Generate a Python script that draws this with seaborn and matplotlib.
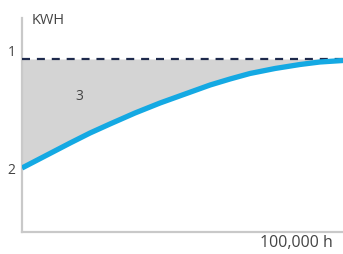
import matplotlib
matplotlib.use("Agg")
import matplotlib.pyplot as plt
import seaborn as sns
import pandas as pd

# hours of operation vs. output level (arbitrary units, reference level = 173)
hours = [0, 7500, 15000, 21200, 27400, 35200, 43000, 50800, 58600,
         64800, 71000, 78800, 86600, 92800, 100000]
output = [64, 76.5, 89, 99, 108, 119, 129, 138, 147,
          153, 158.5, 163.5, 167.5, 170, 171.5]
reference_level = 173

x_label = "100,000 h"
y_label = "KWH"
markers = ["1", "2", "3"]

BLUE = "#14a9e3"
NAVY = "#1e2a4c"
GREY = "#d4d4d4"
AXIS = "#c9c9c9"
TEXT = "#444444"

sns.set_style("white")
plt.rcParams["font.family"] = ["Open Sans", "DejaVu Sans"]

fig = plt.figure(figsize=(3.43, 2.54), dpi=100)
ax = fig.add_axes([22 / 343, 22 / 254, 321 / 343, 214 / 254])

df = pd.DataFrame({"hours": hours, "output": output})

# shaded loss area between the reference line and the curve
ax.fill_between(df["hours"], df["output"], reference_level, color=GREY, lw=0, zorder=1)

# reference level (dashed)
ax.axhline(reference_level, color=NAVY, lw=1.6, dashes=(3.6, 3.1), zorder=3)

# output curve
sns.lineplot(data=df, x="hours", y="output", color=BLUE, lw=3.8, ax=ax, zorder=4,
             solid_capstyle="butt", solid_joinstyle="round")

ax.set_xlim(0, 100000)
ax.set_ylim(0, 214)
ax.set_xticks([])
ax.set_yticks([])
ax.set_xlabel("")
ax.set_ylabel("")

for side in ["top", "right"]:
    ax.spines[side].set_visible(False)
for side in ["left", "bottom"]:
    ax.spines[side].set_color(AXIS)
    ax.spines[side].set_linewidth(1.6)

# annotations
ax.text(-0.032, reference_level + 7, markers[0], transform=ax.get_yaxis_transform(),
        ha="center", va="center", fontsize=10, color=TEXT, clip_on=False)
ax.text(-0.032, output[0] - 3, markers[1], transform=ax.get_yaxis_transform(),
        ha="center", va="center", fontsize=10, color=TEXT, clip_on=False)
ax.text(17800, 136, markers[2], ha="center", va="center", fontsize=10, color=TEXT)
ax.text(0.03, 212, y_label, transform=ax.get_yaxis_transform(),
        ha="left", va="center", fontsize=10.5, color=TEXT, clip_on=False)
ax.text(0.968, -0.052, x_label, transform=ax.transAxes,
        ha="right", va="center", fontsize=11.5, color=TEXT, clip_on=False)

plt.savefig("out.png", dpi=100)
